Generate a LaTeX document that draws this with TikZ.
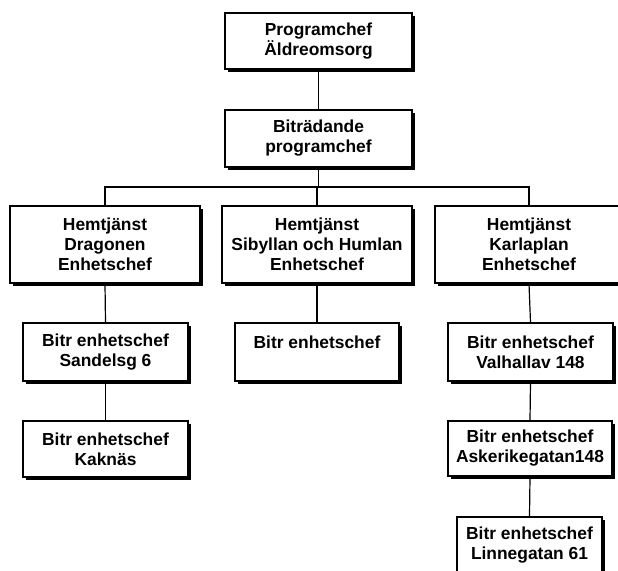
\documentclass[tikz,border=0pt]{standalone}
\usepackage{fontspec}
\setmainfont{Liberation Sans}
\usetikzlibrary{shadows}
\begin{document}
\begin{tikzpicture}[x=1pt,y=-1pt,
  orgbox/.style={draw=black, line width=1.5pt, fill=white, rectangle, inner sep=0pt,
    align=center, font=\fontsize{17.4}{20}\selectfont\bfseries,
    drop shadow={shadow xshift=3pt, shadow yshift=-3pt, fill=black, opacity=1}},
  conn/.style={draw=black, line width=1.2pt}]
\useasboundingbox (0,0) rectangle (618,570);
\clip (0,0) rectangle (618,570);
\fill[white] (0,0) rectangle (618,570);
\node[orgbox, minimum width=187pt, minimum height=56pt] (P1) at (318.5,41) {Programchef\\Äldreomsorg};
\node[orgbox, minimum width=187pt, minimum height=57pt] (P2) at (318.5,138.5) {Biträdande\\programchef};
\node[orgbox, minimum width=190pt, minimum height=77pt] (H1) at (105,244.5) {Hemtjänst\\Dragonen\\Enhetschef};
\node[orgbox, minimum width=190pt, minimum height=77pt] (H2) at (317,244.5) {Hemtjänst\\Sibyllan och Humlan\\Enhetschef};
\node[orgbox, minimum width=188pt, minimum height=77pt] (H3) at (529,244.5) {Hemtjänst\\Karlaplan\\Enhetschef};
\node[orgbox, minimum width=165pt, minimum height=58pt] (B1) at (105.5,352) {Bitr enhetschef\\Sandelsg 6};
\node[orgbox, minimum width=165pt, minimum height=56pt] (B2) at (105.5,449) {Bitr enhetschef\\Kaknäs};
\node[orgbox, minimum width=164pt, minimum height=58pt] (M1) at (317,352) {Bitr enhetschef\\~};
\node[orgbox, minimum width=165pt, minimum height=58pt] (R1) at (530.5,352) {Bitr enhetschef\\Valhallav 148};
\node[orgbox, minimum width=164pt, minimum height=55pt] (R2) at (530,448.5) {Bitr enhetschef\\Askerikegatan148};
\node[orgbox, minimum width=145pt, minimum height=57pt] (R3) at (529.5,545.5) {Bitr enhetschef\\Linnegatan 61};
\coordinate (bus) at (318.5,187);
\draw[conn] (P1.south) -- (P2.north);
\draw[conn] (P2.south) -- (bus);
\draw[conn] (H1.north) |- (bus) -| (H3.north);
\draw[conn] (H2.north) -- (H2.north |- bus);
\draw[conn] (H1.south) -- (B1.north);
\draw[conn] (B1.south) -- (B2.north);
\draw[conn] (H2.south) -- (M1.north);
\draw[conn] (H3.south) -- (R1.north);
\draw[conn] (R1.south) -- (R2.north);
\draw[conn] (R2.south) -- (R3.north);
\end{tikzpicture}
\end{document}
